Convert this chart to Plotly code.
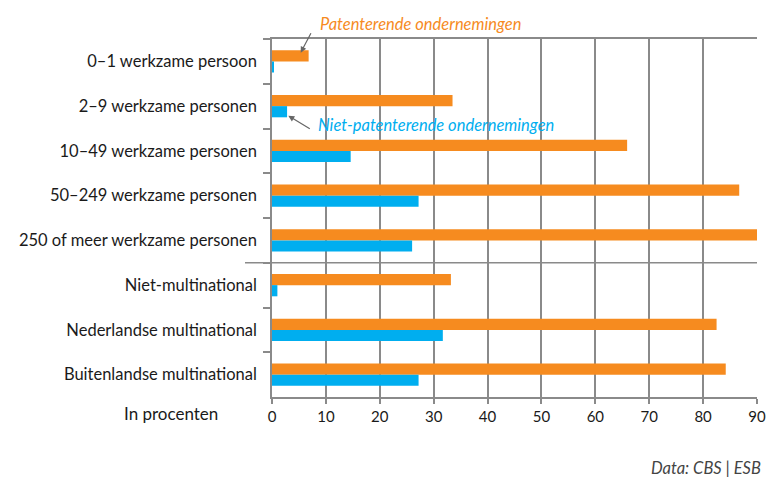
import plotly.graph_objects as go

categories = [
    "0–1 werkzame persoon",
    "2–9 werkzame personen",
    "10–49 werkzame personen",
    "50–249 werkzame personen",
    "250 of meer werkzame personen",
    "Niet-multinational",
    "Nederlandse multinational",
    "Buitenlandse multinational",
]
patenterend = [6.8, 33.5, 65.9, 86.7, 90.3, 33.2, 82.5, 84.2]
niet_patenterend = [0.3, 2.8, 14.6, 27.2, 26.0, 1.0, 31.7, 27.2]
x_ticks = [0, 10, 20, 30, 40, 50, 60, 70, 80, 90]

ORANGE = "#F68B1F"
BLUE = "#00AEEF"
GRID = "#8a8a8a"
FONT = "Lato"

fig = go.Figure()
fig.add_trace(go.Bar(y=categories, x=patenterend, orientation="h",
                     marker=dict(color=ORANGE, line=dict(width=0)),
                     name="Patenterende ondernemingen"))
fig.add_trace(go.Bar(y=categories, x=niet_patenterend, orientation="h",
                     marker=dict(color=BLUE, line=dict(width=0)),
                     name="Niet-patenterende ondernemingen"))

W, H = 779, 482
L, R, T, B = 272, 22, 39, 85
pw, ph = W - L - R, H - T - B

def px(xp):
    return (xp - L) / pw

def py(yp):
    return (H - B - yp) / ph

fig.update_layout(
    width=W, height=H,
    margin=dict(l=L, r=R, t=T, b=B, pad=0),
    paper_bgcolor="white", plot_bgcolor="white",
    barmode="group", bargap=0.5, bargroupgap=0,
    showlegend=False,
    font=dict(family=FONT, size=15, color="#1a1a1a"),
)
fig.update_xaxes(
    range=[0, 90], tickvals=x_ticks, ticktext=[str(v) for v in x_ticks],
    showgrid=True, gridcolor=GRID, gridwidth=1.5,
    showline=True, linecolor=GRID, linewidth=1.5, mirror=True,
    ticks="outside", ticklen=5, tickcolor=GRID, tickwidth=1.5,
    zeroline=False, tickfont=dict(size=15, family=FONT, color="#1a1a1a"),
    fixedrange=True,
)
fig.update_yaxes(
    autorange="reversed", showgrid=False,
    showline=True, linecolor=GRID, linewidth=1.5,
    ticks="outside", ticklen=7, tickcolor=GRID, tickwidth=1.5,
    tickson="boundaries", ticklabelstandoff=10,
    tickfont=dict(size=16.5, family=FONT, color="#1a1a1a"),
    zeroline=False, fixedrange=True,
)

# separator between size classes and multinational groups
fig.add_shape(type="line", xref="paper", yref="y",
              x0=px(245), x1=1, y0=4.5, y1=4.5,
              line=dict(color=GRID, width=1.5), layer="above")

anns = [
    dict(x=px(318), y=py(24), xref="paper", yref="paper", xanchor="left", yanchor="middle",
         text="<i>Patenterende ondernemingen</i>", showarrow=False,
         font=dict(color=ORANGE, size=16.5, family=FONT)),
    dict(x=px(300.7), y=py(52.7), xref="paper", yref="paper", ax=11, ay=-21,
         axref="pixel", ayref="pixel", text="", showarrow=True,
         arrowhead=2, arrowsize=1, arrowwidth=1.2, arrowcolor="#666666"),
    dict(x=px(316), y=py(125), xref="paper", yref="paper", xanchor="left", yanchor="middle",
         text="<i>Niet-patenterende ondernemingen</i>", showarrow=False,
         font=dict(color=BLUE, size=16.5, family=FONT)),
    dict(x=px(288.3), y=py(115.7), xref="paper", yref="paper", ax=23, ay=14,
         axref="pixel", ayref="pixel", text="", showarrow=True,
         arrowhead=2, arrowsize=1, arrowwidth=1.2, arrowcolor="#666666"),
    dict(x=px(220), y=py(413), xref="paper", yref="paper", xanchor="right", yanchor="middle",
         text="In procenten", showarrow=False,
         font=dict(color="#1a1a1a", size=17, family=FONT)),
    dict(x=px(763), y=py(468), xref="paper", yref="paper", xanchor="right", yanchor="middle",
         text="<i>Data: CBS | ESB</i>", showarrow=False,
         font=dict(color="#444444", size=16.5, family=FONT)),
]
fig.update_layout(annotations=anns)

fig.write_html("out.html",
               config={"displayModeBar": False},
               post_script="document.body.style.margin='0';document.body.style.padding='0';")
